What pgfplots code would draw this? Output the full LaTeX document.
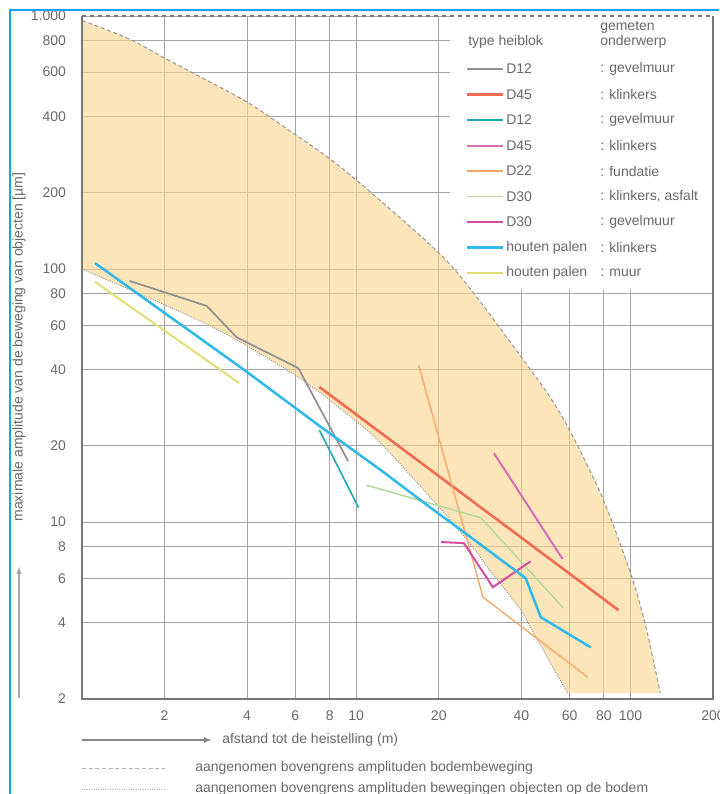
\documentclass[border=0pt]{standalone}
\usepackage{fontspec}
\setmainfont{Liberation Sans}
\usepackage{pgfplots}
\pgfplotsset{compat=1.18}
\usepgfplotslibrary{fillbetween}
\usetikzlibrary{arrows.meta}

\definecolor{fillc}{RGB}{252,212,140}
\definecolor{gridc}{RGB}{165,165,165}
\definecolor{txt}{RGB}{105,105,105}
\definecolor{framec}{RGB}{120,120,120}
\definecolor{bnd}{RGB}{150,150,150}
\definecolor{cgray}{RGB}{145,145,145}
\definecolor{cred}{RGB}{240,105,80}
\definecolor{cteal}{RGB}{30,170,180}
\definecolor{cpink}{RGB}{215,110,180}
\definecolor{corange}{RGB}{248,165,105}
\definecolor{cgreen}{RGB}{180,215,155}
\definecolor{cmag}{RGB}{215,75,160}
\definecolor{cblue}{RGB}{50,185,235}
\definecolor{cyellow}{RGB}{225,222,120}
\definecolor{cborder}{RGB}{30,160,240}

\newcommand\fs{\fontsize{10.5}{12}\selectfont}

\tikzset{
  sgray/.style={cgray, line width=1.3pt},
  sred/.style={cred, line width=1.9pt},
  steal/.style={cteal, line width=1.2pt},
  spink/.style={cpink, line width=1.5pt},
  sorange/.style={corange, line width=1pt},
  sgreen/.style={cgreen, line width=1.1pt},
  smag/.style={cmag, line width=1.5pt},
  sblue/.style={cblue, line width=1.9pt},
  syellow/.style={cyellow, line width=1.5pt},
}

\begin{document}
\begin{tikzpicture}
\begin{axis}[
  at={(61.5pt,-524.25pt)}, anchor=south west,
  scale only axis, width=473.25pt, height=512.25pt,
  xmode=log, ymode=log,
  xmin=1, xmax=200, ymin=2, ymax=1000,
  axis line style={draw=none},
  grid=major,
  major grid style={gridc, line width=0.75pt},
  major tick length=0pt,
  xtick={2,4,6,8,10,20,40,60,80,100,200},
  xticklabels={2,4,6,8,10,20,40,60,80,100,200},
  ytick={2,4,6,8,10,20,40,60,80,100,200,400,600,800,1000},
  yticklabels={2,4,6,8,10,20,40,60,80,100,200,400,600,800,1.000},
  ticklabel style={font=\fs, text=txt},
  xticklabel style={yshift=-5pt},
  yticklabel style={xshift=-8.5pt},
]
% boundaries of the shaded band
\addplot[name path=upper, bnd, line width=0.75pt, densely dashed, smooth] coordinates {
  (1,960) (1.49,811) (2.0,682) (2.62,585) (4.05,453) (5.95,342) (8.11,270)
  (11.3,201) (20,116) (26.8,80.4) (43.3,39.9) (51.2,30.9) (60.5,22.7)
  (79.8,12.2) (100,6.29) (113,3.99) (128.5,2.11)
};
\addplot[name path=lower, bnd, line width=0.75pt, densely dotted, smooth] coordinates {
  (1,100) (2.9,60) (6.15,37.4) (10,25) (12.3,20.5) (20,11.5) (26.8,7.9)
  (30.2,6.6) (39.8,4.5) (44.4,3.64) (59,2.11)
};
\addplot[fill=fillc, fill opacity=0.6, draw=none] fill between[of=upper and lower];
% white legend area (covers the grid, keeps clear of the band)
\fill[white] (rel axis cs:0.5832,1) -- (rel axis cs:1,1) -- (rel axis cs:1,0.5988)
  -- (rel axis cs:0.6244,0.5988) -- (rel axis cs:0.5832,0.6413) -- cycle;

% measured series
\addplot[sgray] coordinates {(1.49,89.8) (2.85,71.5) (3.66,53.8) (6.15,40.6) (9.35,17.4)};
\addplot[sred] coordinates {(7.34,34.2) (90.4,4.49)};
\addplot[steal] coordinates {(7.34,23.1) (10.2,11.4)};
\addplot[spink] coordinates {(31.8,18.7) (56.6,7.14)};
\addplot[sorange] coordinates {(16.9,41.7) (29.0,5.05) (69.8,2.44)};
\addplot[sgreen] coordinates {(10.9,14.0) (28.5,10.4) (57.0,4.57)};
\addplot[smag] coordinates {(20.4,8.34) (24.7,8.26) (31.5,5.53) (43.2,7.0)};
\addplot[sblue] coordinates {(1.115,105.6) (3.91,39.9) (7.46,23.7) (12.3,16.05)
  (18.75,11.36) (24.7,9.13) (41.5,6.0) (47.1,4.21) (71.6,3.2)};
\addplot[syellow] coordinates {(1.115,89) (3.75,35.4)};
\end{axis}

\begin{scope}[x=0.75pt, y=-0.75pt]
% frame
\draw[framec, line width=1.5pt] (82,16) -- (82,699) -- (713,699) -- (713,16);
\draw[framec, line width=1pt, dashed] (82,16) -- (713,16);
% legend
\begin{scope}[every node/.style={font=\fs, text=txt, inner sep=0pt}]
\node[anchor=west] at (468,42) {type heiblok};
\node[anchor=west] at (600,27) {gemeten};
\node[anchor=west] at (600,42) {onderwerp};
\foreach \y/\sty/\a/\b in {
  69/sgray/D12/gevelmuur,
  94.5/sred/D45/klinkers,
  120/steal/D12/gevelmuur,
  145.5/spink/D45/klinkers,
  171/sorange/D22/fundatie,
  196.5/sgreen/D30/{klinkers, asfalt},
  222/smag/D30/gevelmuur,
  247.5/sblue/houten palen/klinkers,
  273/syellow/houten palen/muur}{
  \draw[\sty] (467,\y) -- (503,\y);
  \node[anchor=west] at (506,\y) {\a};
  \node[anchor=west] at (600,\y) {: \b};
}
% axis descriptions
\node[rotate=90] at (19,347) {maximale amplitude van de beweging van objecten [µm]};
\draw[gray!70, line width=0.9pt, -{Latex[length=6pt,width=4pt]}] (19,698) -- (19,566);
\draw[framec!90, line width=1.6pt, -{Latex[length=6pt,width=4.5pt]}] (82,740) -- (212,740);
\node[anchor=west] at (222,740) {afstand tot de heistelling (m)};
\draw[gray!60, line width=0.75pt, densely dashed] (82,768) -- (165,768);
\node[anchor=west] at (195,768) {aangenomen bovengrens amplituden bodembeweging};
\draw[gray!60, line width=0.75pt, densely dotted] (82,789) -- (165,789);
\node[anchor=west] at (195,789) {aangenomen bovengrens amplituden bewegingen objecten op de bodem};
\end{scope}
% blue page border
\draw[cborder, line width=1.6pt] (10,794) -- (10,10) -- (719,10);
\end{scope}
\pgfresetboundingbox
\path[use as bounding box] (0,0) rectangle (539.25pt,-595.5pt);
\end{tikzpicture}
\end{document}
